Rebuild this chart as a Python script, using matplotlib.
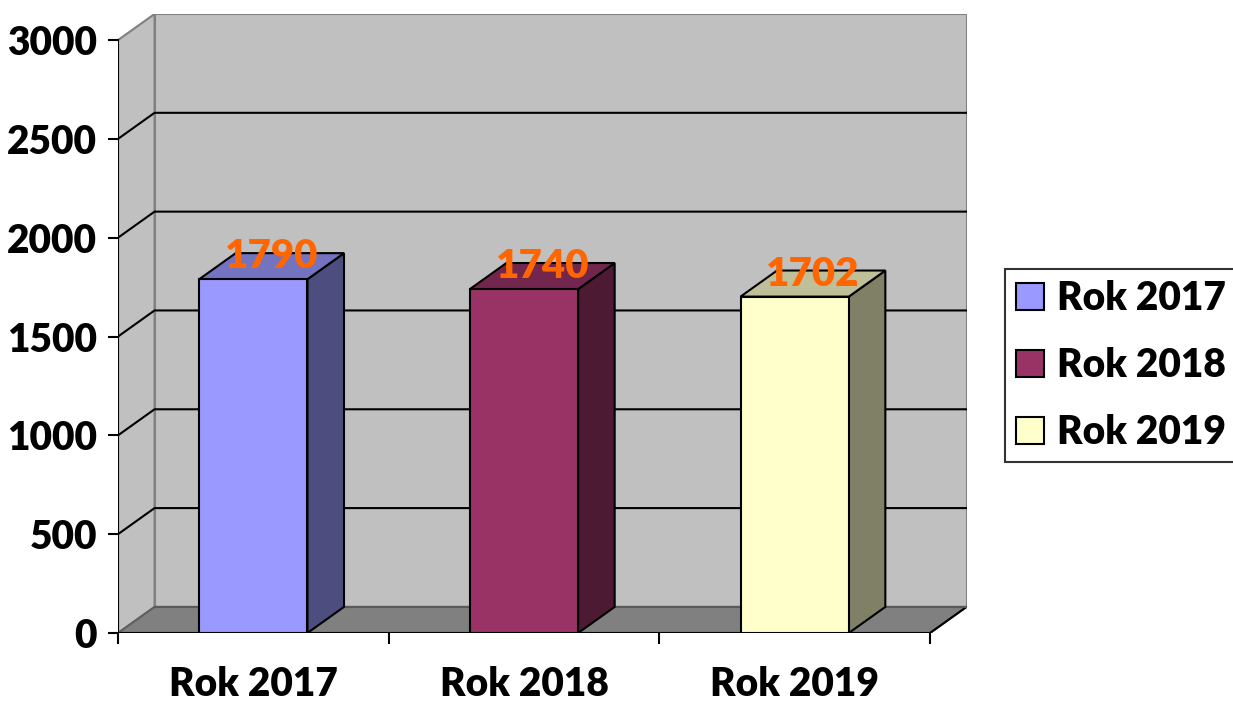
import matplotlib
matplotlib.use("Agg")
import matplotlib.pyplot as plt
from matplotlib.patches import Polygon, Patch

categories = ["Rok 2017", "Rok 2018", "Rok 2019"]
values = [1790, 1740, 1702]
value_labels = ["1790", "1740", "1702"]
yticks = [0, 500, 1000, 1500, 2000, 2500, 3000]

front_colors = ["#9999FF", "#993366", "#FFFFCC"]
side_colors = ["#4D4D80", "#4D1A33", "#808066"]
top_colors = ["#7373BF", "#73264D", "#BFBF99"]

plt.rcParams['font.family'] = ['Lato', 'DejaVu Sans']
FW = 'heavy'
plt.rcParams['font.weight'] = FW

W, H = 1233, 702
fig = plt.figure(figsize=(W / 100, H / 100), dpi=100)

ymax = 3000
dx = 0.135
dy = 132
bw = 0.4
x0, x1 = -0.5, 2.5

left_px, front_right_px, bottom_px, top_px = 118, 930, 633, 14
px_per_x = (front_right_px - left_px) / (x1 - x0)
ax_w = (front_right_px - left_px) + dx * px_per_x
ax = fig.add_axes([left_px / W, (H - bottom_px) / H, ax_w / W, (bottom_px - top_px) / H])
ax.set_xlim(x0, x1 + dx)
ax.set_ylim(0, ymax + dy)
ax.patch.set_visible(False)
for s in ax.spines.values():
    s.set_visible(False)

gray = "#C0C0C0"
edge_gray = "#808080"
# back wall
ax.add_patch(Polygon([(x0 + dx, dy), (x1 + dx, dy), (x1 + dx, ymax + dy), (x0 + dx, ymax + dy)],
                     closed=True, facecolor=gray, edgecolor=edge_gray, lw=1.5, zorder=1))
# left wall
ax.add_patch(Polygon([(x0, 0), (x0 + dx, dy), (x0 + dx, ymax + dy), (x0, ymax)],
                     closed=True, facecolor=gray, edgecolor=edge_gray, lw=1.5, zorder=1))
# floor
ax.add_patch(Polygon([(x0, 0), (x1, 0), (x1 + dx, dy), (x0 + dx, dy)],
                     closed=True, facecolor="#808080", edgecolor="#606060", lw=1.5, zorder=1.5))
ax.plot([x1, x1 + dx], [0, dy], color="black", lw=1.5, zorder=2, solid_capstyle='butt')
ax.plot([x0 + dx, x1 + dx], [dy, dy], color="#5a5a5a", lw=1.5, zorder=2)

# gridlines
for v in yticks[1:-1]:
    ax.plot([x0, x0 + dx, x1 + dx], [v, v + dy, v + dy], color="black", lw=1.5, zorder=2)

# axes lines
ax.plot([x0, x0], [0, ymax], color="black", lw=1.5, zorder=3)
ax.plot([x0, x1], [0, 0], color="black", lw=1.5, zorder=3)

# bars
xs = list(range(len(categories)))
for i, (x, v) in enumerate(zip(xs, values)):
    l, r = x - bw / 2, x + bw / 2
    ax.add_patch(Polygon([(r, 0), (r + dx, dy), (r + dx, v + dy), (r, v)], closed=True,
                         facecolor=side_colors[i], edgecolor="black", lw=1.5, zorder=4))
    ax.add_patch(Polygon([(l, v), (r, v), (r + dx, v + dy), (l + dx, v + dy)], closed=True,
                         facecolor=top_colors[i], edgecolor="black", lw=1.5, zorder=4))
ax.bar(xs, values, width=bw, color=front_colors, edgecolor="black", lw=1.5, zorder=5)

for x, v, lab in zip(xs, values, value_labels):
    ax.text(x + dx / 2, v + dy, lab, color="#FF6600", fontsize=29, fontweight=FW,
            ha='center', va='center_baseline', zorder=6)

# ticks
ax.set_yticks(yticks)
ax.set_yticklabels([str(t) for t in yticks], fontsize=28, fontweight=FW)
ax.tick_params(axis='y', length=7, width=1.5, pad=8, color='black')
ax.set_xticks(xs)
ax.set_xticklabels(categories, fontsize=28, fontweight=FW)
ax.tick_params(axis='x', which='major', length=0, pad=24)
ax.set_xticks([x0, 0.5, 1.5, x1], minor=True)
ax.tick_params(axis='x', which='minor', length=8, width=1.5, color='black')

handles = [Patch(facecolor=c, edgecolor="black", lw=1.5) for c in front_colors]
leg = fig.legend(handles, categories, loc='upper left',
                 bbox_to_anchor=(1005 / W, (H - 269) / H),
                 prop={'family': ['Lato', 'DejaVu Sans'], 'weight': FW, 'size': 28},
                 frameon=True, fancybox=False, borderpad=0.28, labelspacing=0.77,
                 handlelength=0.72, handleheight=0.69, handletextpad=0.33, borderaxespad=0)
leg.get_frame().set_edgecolor("black")
leg.get_frame().set_linewidth(1.5)

fig.savefig("out.png", dpi=100)
